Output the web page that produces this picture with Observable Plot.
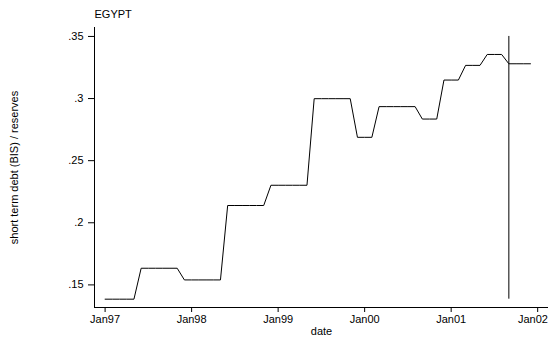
<!DOCTYPE html>
<html>
<head>
<meta charset="utf-8">
<script src="https://cdn.jsdelivr.net/npm/d3@7"></script>
<script src="https://cdn.jsdelivr.net/npm/@observablehq/plot@0.6"></script>
<style>
  html, body { margin: 0; padding: 0; background: #fff; }
</style>
</head>
<body>
<div id="chart"></div>
<script>
// Monthly observations (Stata %tm style), Jan 1997 – Dec 2001
const months = [
  "1997m1","1997m2","1997m3","1997m4","1997m5","1997m6","1997m7","1997m8","1997m9","1997m10","1997m11","1997m12",
  "1998m1","1998m2","1998m3","1998m4","1998m5","1998m6","1998m7","1998m8","1998m9","1998m10","1998m11","1998m12",
  "1999m1","1999m2","1999m3","1999m4","1999m5","1999m6","1999m7","1999m8","1999m9","1999m10","1999m11","1999m12",
  "2000m1","2000m2","2000m3","2000m4","2000m5","2000m6","2000m7","2000m8","2000m9","2000m10","2000m11","2000m12",
  "2001m1","2001m2","2001m3","2001m4","2001m5","2001m6","2001m7","2001m8","2001m9","2001m10","2001m11","2001m12"
];
const ratio = [
  0.1385,0.1385,0.1385,0.1385,0.1385,0.1634,0.1634,0.1634,0.1634,0.1634,0.1634,0.1540,
  0.1540,0.1540,0.1540,0.1540,0.1540,0.2139,0.2139,0.2139,0.2139,0.2139,0.2139,0.2302,
  0.2302,0.2302,0.2302,0.2302,0.2302,0.2999,0.2999,0.2999,0.2999,0.2999,0.2999,0.2688,
  0.2688,0.2688,0.2935,0.2935,0.2935,0.2935,0.2935,0.2935,0.2835,0.2835,0.2835,0.3149,
  0.3149,0.3149,0.3267,0.3267,0.3267,0.3355,0.3355,0.3355,0.3280,0.3280,0.3280,0.3280
];
const title = "EGYPT";
const yLabel = "short term debt (BIS) / reserves";
const xLabel = "date";
const xTickMonths = ["1997m1","1998m1","1999m1","2000m1","2001m1","2002m1"];
const xTickLabels = ["Jan97","Jan98","Jan99","Jan00","Jan01","Jan02"];
const yTicks = [0.15, 0.2, 0.25, 0.3, 0.35];
const yTickLabels = [".15", ".2", ".25", ".3", ".35"];
const markerMonth = "2001m9";
const markerTop = 0.35;

const toIndex = s => { const [y, m] = s.split("m").map(Number); return (y - 1997) * 12 + (m - 1); };
const data = months.map((m, i) => ({t: toIndex(m), v: ratio[i]}));
const xTicks = xTickMonths.map(toIndex);
const xTickData = xTicks.map((t, i) => ({t, label: xTickLabels[i]}));
const innerTicks = xTickData.slice(0, -1);
const lastTick = xTickData.slice(-1);
const yFmt = new Map(yTicks.map((t, i) => [t, yTickLabels[i]]));
const xDomain = [-1.47, 61.5];
const yDomain = [0.1318, 0.3572];
const markerT = toIndex(markerMonth);
const minV = d3.min(ratio);

const chart = Plot.plot({
  width: 550,
  height: 338,
  marginTop: 27,
  marginBottom: 31,
  marginLeft: 94,
  marginRight: 2,
  style: {fontFamily: "'Liberation Sans', Arial, Helvetica, sans-serif", fontSize: "11px", color: "#000", background: "#fff"},
  x: {domain: xDomain},
  y: {domain: yDomain},
  marks: [
    Plot.axisX({ticks: xTicks, tickFormat: () => "", tickSize: 5, label: null}),
    Plot.text(innerTicks, {x: "t", text: "label", frameAnchor: "bottom", lineAnchor: "top", dy: 8, fontSize: 11, fill: "#000"}),
    Plot.text(lastTick, {x: "t", text: "label", frameAnchor: "bottom", lineAnchor: "top", textAnchor: "end", dy: 8, dx: 10.3, fontSize: 11, fill: "#000"}),
    Plot.axisY({ticks: yTicks, tickFormat: d => yFmt.get(d), tickSize: 6, tickPadding: 5, label: null, fontSize: 11}),
    Plot.ruleX([xDomain[0]], {stroke: "#000", strokeWidth: 1}),
    Plot.ruleY([yDomain[0]], {stroke: "#000", strokeWidth: 1}),
    Plot.line(data, {x: "t", y: "v", stroke: "#000", strokeWidth: 1}),
    Plot.ruleX([markerT], {y1: minV, y2: markerTop, stroke: "#000", strokeWidth: 1}),
    Plot.text([title], {frameAnchor: "top-left", textAnchor: "start", lineAnchor: "bottom", dy: -9.7, fontSize: 11, fill: "#000"}),
    Plot.text([xLabel], {frameAnchor: "bottom", lineAnchor: "bottom", dy: 27.5, fontSize: 11, fill: "#000"}),
    Plot.text([yLabel], {frameAnchor: "left", textAnchor: "middle", rotate: -90, dx: -80, fontSize: 11, fill: "#000"})
  ]
});
document.getElementById("chart").appendChild(chart);
</script>
</body>
</html>
